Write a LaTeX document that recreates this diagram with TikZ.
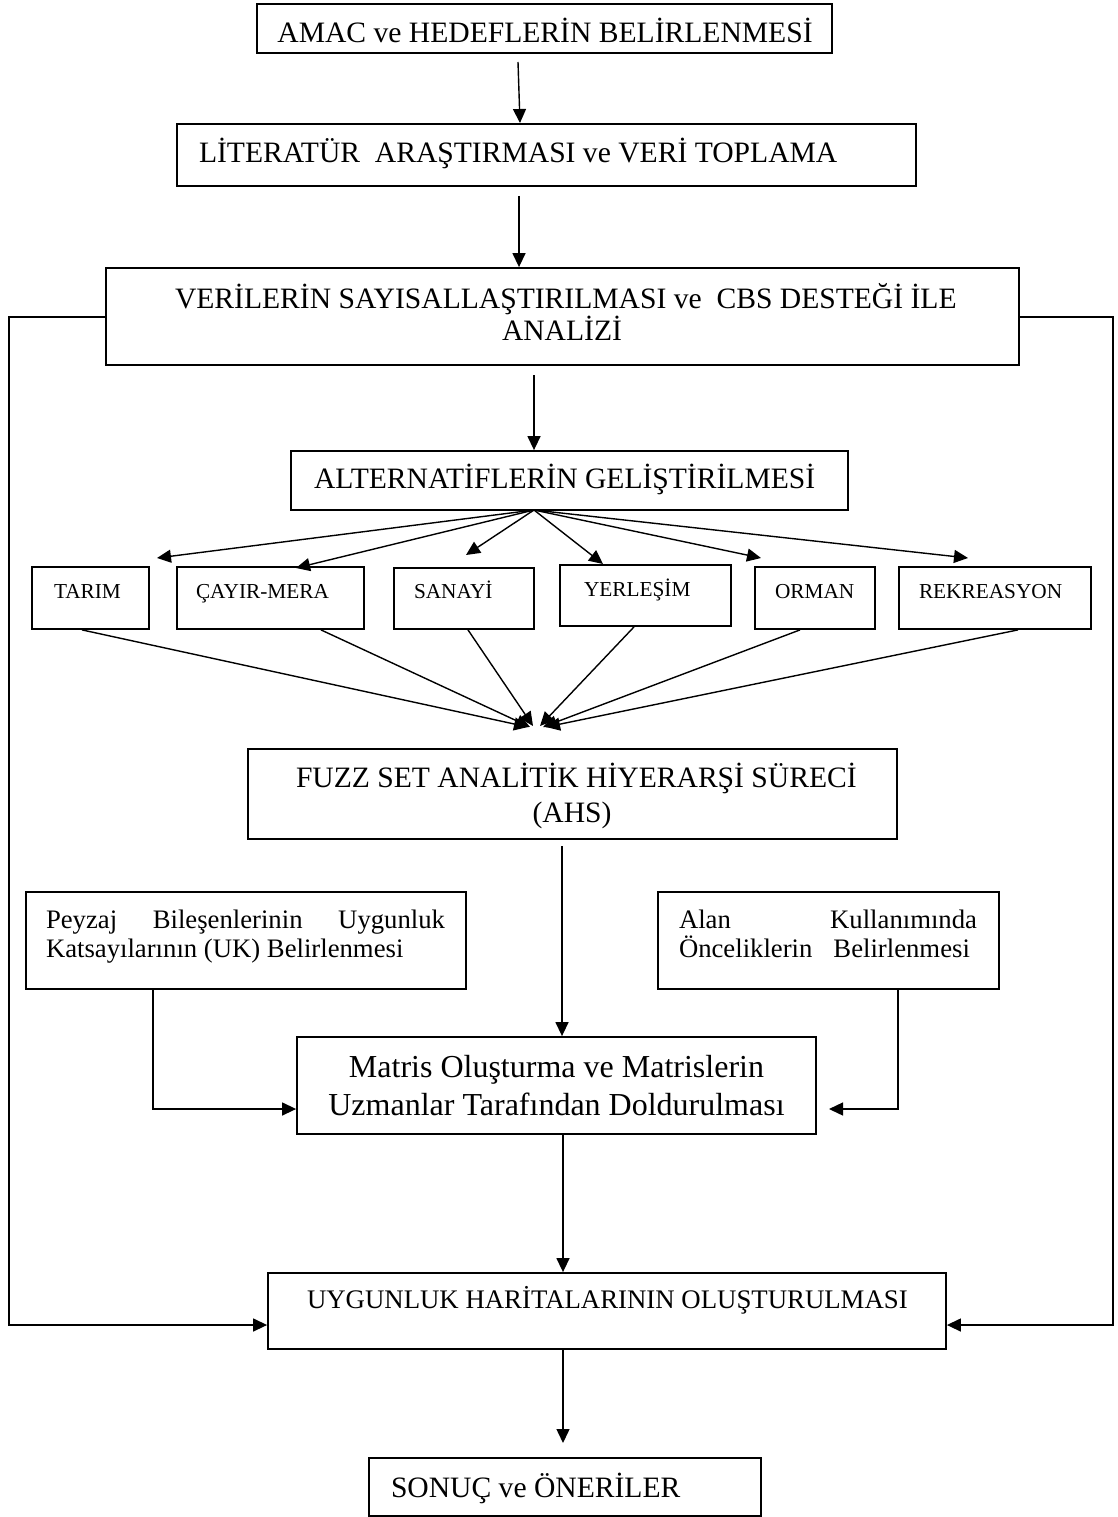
\documentclass[tikz,border=0pt]{standalone}
\usepackage{fontspec}
\setmainfont{Liberation Serif}
\usetikzlibrary{arrows.meta}
\newcommand{\bx}[5]{\node[boxs, minimum width={#4-#2}, minimum height={#5-#3}] (#1) at ({(#2+#4)/2},{(#3+#5)/2}) {};}
\begin{document}
\begin{tikzpicture}[x=1pt,y=-1pt,
  boxs/.style={draw, line width=1.8pt, inner sep=0pt},
  conn/.style={line width=1.4pt},
  arr/.style={conn, -{Triangle[length=14pt,width=13pt]}},
  txt/.style={inner sep=0pt, outer sep=0pt},
  fa/.style={txt, font=\fontsize{29.6}{33}\selectfont},
  fb/.style={txt, font=\fontsize{21.3}{24}\selectfont},
  fc/.style={txt, font=\fontsize{26.7}{30}\selectfont},
  fd/.style={txt, font=\fontsize{32}{37}\selectfont},
  fe/.style={txt, font=\fontsize{26.8}{30}\selectfont},
]
\useasboundingbox (0,0) rectangle (1117,1517);
\fill[white] (0,0) rectangle (1117,1517);

% boxes
\bx{amac}{257}{4}{832}{53}
\bx{lit}{177}{124}{916}{186}
\bx{ver}{106}{268}{1019}{365}
\bx{alt}{291}{451}{848}{510}
\bx{tarim}{32}{567}{149}{629}
\bx{cayir}{177}{567}{364}{629}
\bx{sanayi}{394}{568}{534}{629}
\bx{yer}{560}{565}{731}{626}
\bx{orman}{755}{567}{875}{629}
\bx{rek}{899}{567}{1091}{629}
\bx{fuzz}{248}{749}{897}{839}
\bx{pey}{26}{892}{466}{989}
\bx{alan}{658}{892}{999}{989}
\bx{mat}{297}{1037}{816}{1134}
\bx{uyg}{268}{1273}{946}{1349}
\bx{son}{369}{1458}{761}{1516}

% texts
\node[fa, anchor=base] (amac-t) at (545,43) {AMAC ve HEDEFLERİN BELİRLENMESİ};
\node[fa, anchor=base west] (lit-t) at (199,163) {LİTERATÜR\ \ ARAŞTIRMASI ve VERİ TOPLAMA};
\node[fa, anchor=base west] (ver-t1) at (175,308) {VERİLERİN SAYISALLAŞTIRILMASI ve\ \ CBS DESTEĞİ İLE};
\node[fa, anchor=base] (ver-t2) at (562,340) {ANALİZİ};
\node[fa, anchor=base west] (alt-t) at (314,488) {ALTERNATİFLERİN GELİŞTİRİLMESİ};
\node[fb, anchor=base west] (tarim-t) at (54,598) {TARIM};
\node[fb, anchor=base west] (cayir-t) at (196,598) {ÇAYIR-MERA};
\node[fb, anchor=base west] (sanayi-t) at (414,598) {SANAYİ};
\node[fb, anchor=base west] (yer-t) at (584,596) {YERLEŞİM};
\node[fb, anchor=base west] (orman-t) at (775,598) {ORMAN};
\node[fb, anchor=base west] (rek-t) at (919,598) {REKREASYON};
\node[fa, anchor=base west] (fuzz-t1) at (296,787) {FUZZ SET ANALİTİK HİYERARŞİ SÜRECİ};
\node[fa, anchor=base] (fuzz-t2) at (572,822) {(AHS)};
\node[fc, anchor=base west] (pey-t1) at (46,928) {\makebox[399pt][s]{Peyzaj Bileşenlerinin Uygunluk}};
\node[fc, anchor=base west] (pey-t2) at (46,957) {Katsayılarının (UK) Belirlenmesi};
\node[fc, anchor=base west] (alan-t1) at (679,928) {\makebox[298pt][s]{Alan Kullanımında}};
\node[fc, anchor=base west] (alan-t2) at (679,957) {Önceliklerin\hspace{21pt}Belirlenmesi};
\node[fd, anchor=base] (mat-t1) at (556.5,1077) {Matris Oluşturma ve Matrislerin};
\node[fd, anchor=base] (mat-t2) at (556.5,1115) {Uzmanlar Tarafından Doldurulması};
\node[fe, anchor=base west] (uyg-t) at (307,1308) {UYGUNLUK HARİTALARININ OLUŞTURULMASI};
\node[fa, anchor=base west] (son-t) at (391,1497) {SONUÇ ve ÖNERİLER};

% free-end coordinates
\coordinate (a1s) at (518,62);
\coordinate (a1e) at (520,123);
\coordinate (a2s) at (519,196);
\coordinate (a3s) at (534,375);
\coordinate (fo) at (534,510);
\coordinate (t1) at (157,558);
\coordinate (t2) at (296,568);
\coordinate (t3) at (466,555);
\coordinate (t4) at (603,564);
\coordinate (t5) at (761,558);
\coordinate (t6) at (968,558);
\coordinate (b1) at (82,0);
\coordinate (b2) at (321,0);
\coordinate (b3) at (468,0);
\coordinate (b4) at (634,0);
\coordinate (b5) at (800,0);
\coordinate (b6) at (1018,0);
\coordinate (i1) at (528,727);
\coordinate (i2) at (530,727);
\coordinate (i3) at (533,726);
\coordinate (i4) at (540,726);
\coordinate (i5) at (543,727);
\coordinate (i6) at (546,727);
\coordinate (fz) at (562,846);
\coordinate (mx) at (563,0);
\coordinate (py) at (153,1109);
\coordinate (ay) at (898,1109);
\coordinate (atip) at (829,1109);
\coordinate (vy) at (0,317);
\coordinate (uy) at (0,1325);
\coordinate (lx) at (9,0);
\coordinate (rx) at (1113,0);
\coordinate (stip) at (563,1443);

% main vertical arrows
\draw[arr] (a1s) -- (a1e);
\draw[arr] (a2s) -- (a2s |- ver.north);
\draw[arr] (a3s) -- (a3s |- alt.north);

% fan out
\foreach \t in {t1,t2,t3,t4,t5,t6} \draw[arr] (fo) -- (\t);

% fan in
\draw[arr] (tarim.south -| b1) -- (i1);
\draw[arr] (cayir.south -| b2) -- (i2);
\draw[arr] (sanayi.south -| b3) -- (i3);
\draw[arr] (yer.south -| b4) -- (i4);
\draw[arr] (orman.south -| b5) -- (i5);
\draw[arr] (rek.south -| b6) -- (i6);

% to matrix
\draw[arr] (fz) -- (fz |- mat.north);
\draw[arr] (pey.south -| py) -- (py) -- (py -| mat.west);
\draw[arr] (alan.south -| ay) -- (ay) -- (atip);

% matrix to uygunluk
\draw[arr] (mat.south -| mx) -- (mx |- uyg.north);

% side loops
\draw[arr] (ver.west |- vy) -- (lx |- vy) -- (lx |- uy) -- (uyg.west |- uy);
\draw[arr] (ver.east |- vy) -- (rx |- vy) -- (rx |- uy) -- (uyg.east |- uy);

% to sonuc
\draw[arr] (uyg.south -| mx) -- (stip);
\end{tikzpicture}
\end{document}
